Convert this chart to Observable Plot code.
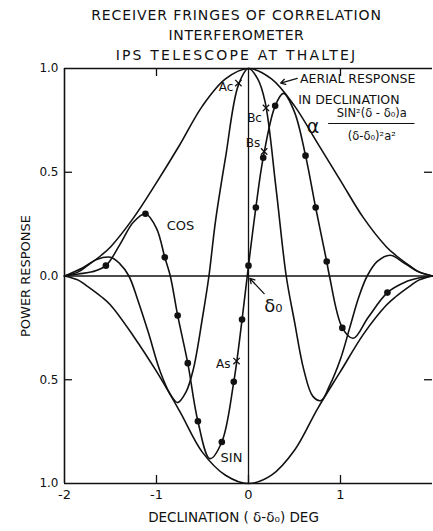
<!DOCTYPE html>
<html><head><meta charset="utf-8">
<script src="https://cdn.jsdelivr.net/npm/d3@7"></script>
<script src="https://cdn.jsdelivr.net/npm/@observablehq/plot@0.6"></script>
<style>
body{margin:0;background:#fff;width:433px;height:531px;overflow:hidden;font-family:"DejaVu Sans",sans-serif;color:#111}
#title{height:65px;box-sizing:border-box;padding-top:5px;padding-left:40px;text-align:center;font-size:14px;line-height:20px}
#t1{letter-spacing:0.9px}#t2{letter-spacing:0.6px}#t3{letter-spacing:2.2px}
</style></head><body>
<div id="title"><div id="t1">RECEIVER FRINGES OF CORRELATION</div><div id="t2">INTERFEROMETER</div><div id="t3">IPS TELESCOPE AT THALTEJ</div></div>
<div id="chart"></div>
<script>
// Aerial response envelope (positive and negative)
const envX   = [-2, -1.85, -1.75, -1.6, -1.5, -1.25, -1, -0.75, -0.5, -0.25, 0, 0.25, 0.5, 0.75, 1, 1.25, 1.5, 1.6, 1.75, 1.85, 2];
const envPos = [0, 0.02, 0.05, 0.10, 0.14, 0.28, 0.45, 0.63, 0.82, 0.95, 1.0, 0.95, 0.82, 0.64, 0.46, 0.28, 0.14, 0.10, 0.05, 0.02, 0];
const envNeg = [0, -0.02, -0.05, -0.10, -0.14, -0.29, -0.46, -0.65, -0.85, -0.96, -1.0, -0.96, -0.84, -0.64, -0.46, -0.28, -0.14, -0.10, -0.05, -0.02, 0];
// COS fringe
const cosX = [-2, -1.8, -1.65, -1.5, -1.4, -1.3, -1.2, -1.09, -0.96, -0.85, -0.77, -0.68, -0.6, -0.5, -0.43, -0.36, -0.25, -0.11, 0, 0.1, 0.18, 0.3, 0.41, 0.5, 0.6, 0.7, 0.79, 0.88, 1.0, 1.1, 1.2, 1.29, 1.4, 1.54, 1.7, 1.85, 2];
const cosY = [0, 0.04, 0.08, 0.09, 0.06, 0, -0.12, -0.27, -0.46, -0.57, -0.61, -0.56, -0.45, -0.20, 0, 0.26, 0.57, 0.92, 1.0, 0.95, 0.84, 0.42, 0, -0.22, -0.45, -0.58, -0.60, -0.53, -0.40, -0.25, -0.10, 0, 0.07, 0.10, 0.06, 0.02, 0];
// SIN fringe
const sinX = [-2, -1.85, -1.7, -1.55, -1.4, -1.25, -1.12, -1.0, -0.91, -0.85, -0.77, -0.66, -0.55, -0.42, -0.29, -0.16, -0.07, 0, 0.08, 0.16, 0.29, 0.38, 0.5, 0.62, 0.73, 0.85, 0.88, 1.02, 1.14, 1.3, 1.51, 1.7, 1.85, 2];
const sinY = [0, 0.01, 0.02, 0.05, 0.15, 0.26, 0.30, 0.23, 0.09, 0, -0.19, -0.42, -0.70, -0.88, -0.80, -0.51, -0.21, 0.05, 0.33, 0.57, 0.82, 0.88, 0.79, 0.58, 0.33, 0.07, 0, -0.25, -0.30, -0.20, -0.08, -0.03, -0.01, 0];
// measured points on SIN curve
const dotX = [-1.55, -1.12, -0.91, -0.77, -0.66, -0.55, -0.29, -0.16, -0.07, 0, 0.08, 0.16, 0.29, 0.62, 0.73, 0.85, 1.02, 1.51];
const dotY = [0.05, 0.30, 0.09, -0.19, -0.42, -0.70, -0.80, -0.51, -0.21, 0.05, 0.33, 0.57, 0.82, 0.58, 0.33, 0.07, -0.25, -0.08];
// crosses
const crossX = [-0.11, 0.19, 0.17, -0.13];
const crossY = [0.93, 0.81, 0.60, -0.41];
const crossLabels = ["Ac", "Bc", "Bs", "As"];
const crossDx = [-5, -4, -4, -6];
const crossDy = [4, 10, -8, 3];
// ticks
const xTickVals = [-2, -1, 0, 1];
const xTickLabels = ["-2", "-1", "0", "1"];
const yTickVals = [1, 0.5, 0, -0.5, -1];
const yTickLabels = ["1.0", "0.5", "0.0", "0.5", "1.0"];
const xInnerBottom = [-1, 0, 1];
const xInnerTop = [-1, 1];
const yInner = [0.5, -0.5];

const env = envX.map((x, i) => ({x, pos: envPos[i], neg: envNeg[i]}));
const cosData = cosX.map((x, i) => ({x, y: cosY[i]}));
const sinData = sinX.map((x, i) => ({x, y: sinY[i]}));
const dots = dotX.map((x, i) => ({x, y: dotY[i]}));
const crosses = crossX.map((x, i) => ({x, y: crossY[i], label: crossLabels[i], dx: crossDx[i], dy: crossDy[i]}));

// annotation anchors
const annot = [
  {x: -0.74, y: 0.24, t: "COS", size: 13, anchor: "middle"},
  {x: -0.185, y: -0.875, t: "SIN", size: 13, anchor: "middle"},
  {x: 0.27, y: -0.145, t: "δ₀", size: 18, anchor: "middle"},
  {x: 0.56, y: 0.95, t: "AERIAL RESPONSE", size: 12.5, anchor: "start"},
  {x: 0.54, y: 0.85, t: "IN DECLINATION", size: 12.5, anchor: "start"},
  {x: 0.70, y: 0.72, t: "α", size: 19, anchor: "middle"},
  {x: 1.34, y: 0.785, t: "SIN²(δ - δ₀)a", size: 11.5, anchor: "middle"},
  {x: 1.34, y: 0.675, t: "(δ-δ₀)²a²", size: 11.5, anchor: "middle"}
];
const arrows = [
  {x1: 0.17, y1: -0.085, x2: 0.015, y2: -0.012},
  {x1: 0.53, y1: 0.952, x2: 0.35, y2: 0.93}
];
const fracBar = [{x: 0.87, y: 0.735}, {x: 1.80, y: 0.735}];

const ink = "#111";
const fh = 415, fw = 368;
const crv = "catmull-rom";

const chart = Plot.plot({
  width: 433, height: 466,
  marginTop: 3, marginBottom: 48, marginLeft: 64, marginRight: 1,
  style: {fontFamily: "DejaVu Sans, sans-serif", color: ink, background: "white", overflow: "visible"},
  x: {domain: [-2, 2]},
  y: {domain: [-1, 1]},
  marks: [
    Plot.ruleY([0], {stroke: ink, strokeWidth: 1.3}),
    Plot.ruleX([0], {stroke: ink, strokeWidth: 1.3}),
    Plot.ruleX([-2], {stroke: ink, strokeWidth: 1.6}),
    Plot.ruleY([1, -1], {stroke: ink, strokeWidth: 1.6}),
    Plot.tickX(xInnerBottom, {x: d => d, insetTop: fh - 8, stroke: ink, strokeWidth: 1.3}),
    Plot.tickX(xInnerTop, {x: d => d, insetBottom: fh - 8, stroke: ink, strokeWidth: 1.3}),
    Plot.tickY(yInner, {y: d => d, insetRight: fw - 8, stroke: ink, strokeWidth: 1.3}),
    Plot.tickY(yInner, {y: d => d, insetLeft: fw - 8, stroke: ink, strokeWidth: 1.3}),
    Plot.axisX({ticks: xTickVals, tickFormat: (d, i) => xTickLabels[i], tickSize: 0, tickPadding: 6, fontSize: 13, label: null}),
    Plot.axisY({ticks: yTickVals, tickFormat: (d, i) => yTickLabels[i], tickSize: 0, tickPadding: 6, fontSize: 12, label: null}),
    Plot.line(env, {x: "x", y: "pos", curve: crv, stroke: ink, strokeWidth: 1.6}),
    Plot.line(env, {x: "x", y: "neg", curve: crv, stroke: ink, strokeWidth: 1.6}),
    Plot.line(cosData, {x: "x", y: "y", curve: crv, stroke: ink, strokeWidth: 1.6}),
    Plot.line(sinData, {x: "x", y: "y", curve: crv, stroke: ink, strokeWidth: 1.6}),
    Plot.dot(dots, {x: "x", y: "y", r: 3.3, fill: ink, stroke: "none"}),
    Plot.dot(crosses, {x: "x", y: "y", symbol: "times", r: 3, stroke: ink, strokeWidth: 1.3}),
    ...crosses.map(c => Plot.text([c], {x: "x", y: "y", text: "label", textAnchor: "end", dx: c.dx, dy: c.dy, fontSize: 12, fill: ink})),
    ...annot.map(a => Plot.text([a], {x: "x", y: "y", text: "t", textAnchor: a.anchor, fontSize: a.size, fill: ink})),
    Plot.arrow(arrows, {x1: "x1", y1: "y1", x2: "x2", y2: "y2", stroke: ink, strokeWidth: 1.3, headLength: 6}),
    Plot.line(fracBar, {x: "x", y: "y", stroke: ink, strokeWidth: 1}),
    Plot.text(["POWER RESPONSE"], {frameAnchor: "left", textAnchor: "middle", dx: -39, rotate: -90, fontSize: 13, fill: ink}),
    Plot.text(["DECLINATION ( δ-δ₀) DEG"], {frameAnchor: "bottom", textAnchor: "middle", dx: -15, dy: 38, fontSize: 13.5, fill: ink})
  ]
});
document.getElementById("chart").appendChild(chart);
</script>
</body></html>
